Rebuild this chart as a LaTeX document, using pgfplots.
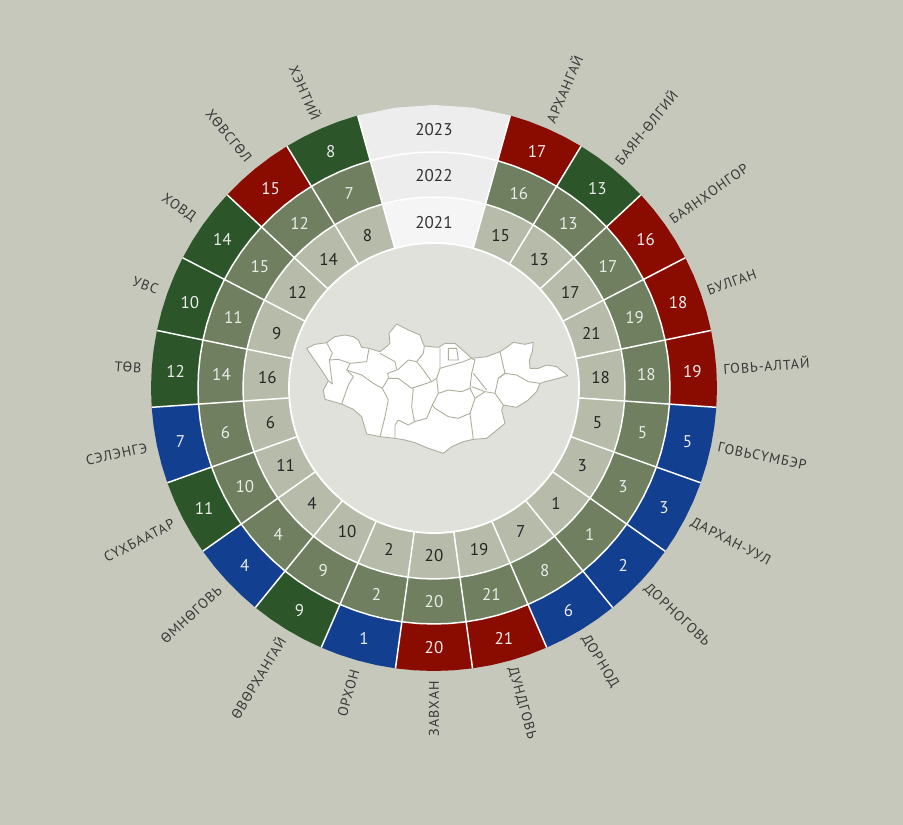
\documentclass[border=0pt]{standalone}
\usepackage{pgfplots}
\usepackage{fontspec}
\setmainfont{PT Sans}
\newfontfamily\labfont[LetterSpace=7]{PT Sans}
\pgfplotsset{compat=1.18}
\usepgfplotslibrary{polar}
\definecolor{bg}{HTML}{C6C8BB}
\definecolor{disk}{HTML}{E0E1DB}
\definecolor{cred}{HTML}{8A0C00}
\definecolor{cgreen}{HTML}{2C5529}
\definecolor{cblue}{HTML}{123F90}
\definecolor{cmid}{HTML}{6F7F60}
\definecolor{clight}{HTML}{B6BCA9}
\definecolor{border}{HTML}{A9B19D}
\def\sw{15.6522}
% filled ring sector: first angle, angular width, r in, r out, colour
\newcommand{\ringcell}[5]{%
  \pgfmathsetmacro\aA{#1}%
  \pgfmathsetmacro\aB{#1-0.25*#2}%
  \pgfmathsetmacro\aC{#1-0.5*#2}%
  \pgfmathsetmacro\aD{#1-0.75*#2}%
  \pgfmathsetmacro\aE{#1-#2}%
  \edef\temp{\noexpand\addplot[fill=#5,draw=none] coordinates {(\aA,#3)(\aB,#3)(\aC,#3)(\aD,#3)(\aE,#3)(\aE,#4)(\aD,#4)(\aC,#4)(\aB,#4)(\aA,#4)} -- cycle;}\temp
}
\newcommand{\ringarc}[3]{%
  \pgfmathsetmacro\aA{#1}%
  \pgfmathsetmacro\aB{#1-0.25*#2}%
  \pgfmathsetmacro\aC{#1-0.5*#2}%
  \pgfmathsetmacro\aD{#1-0.75*#2}%
  \pgfmathsetmacro\aE{#1-#2}%
  \edef\temp{\noexpand\addplot[white,line width=1.5pt] coordinates {(\aA,#3)(\aB,#3)(\aC,#3)(\aD,#3)(\aE,#3)};}\temp
}
\tikzset{
  lab/.style={font=\labfont\fontsize{14}{16}\selectfont,text=black!78,inner sep=0pt},
  num/.style={font=\fontsize{17}{20}\selectfont,inner sep=0pt,yshift=-1pt},
  mapline/.style={draw=border,line width=0.9pt,line join=round,no marks,fill=none}
}
\begin{document}
\begin{tikzpicture}[x=1pt,y=1pt]
\fill[bg] (0,0) rectangle (903,825);
\begin{polaraxis}[
  at={(434pt,437pt)}, anchor=origin,
  scale only axis, width=566pt, height=566pt,
  xmin=0, xmax=360, ymin=0, ymax=283,
  axis lines=none, xtick=\empty, ytick=\empty, clip=false,
]
% the year column at the top is two units wide
\pgfmathsetmacro\topstart{90+\sw}
\pgfmathsetmacro\topw{2*\sw}
\ringcell{\topstart}{\topw}{236}{283}{black!7}
\ringcell{\topstart}{\topw}{191}{236}{black!7}
\ringcell{\topstart}{\topw}{145}{191}{black!4}
% name / 2021 / 2022 / 2023 rank, clockwise from the top
\foreach \name/\a/\b/\c [count=\i] in {
  АРХАНГАЙ/15/16/17, БАЯН-ӨЛГИЙ/13/13/13, БАЯНХОНГОР/17/17/16, БУЛГАН/21/19/18,
  ГОВЬ-АЛТАЙ/18/18/19, ГОВЬСҮМБЭР/5/5/5, ДАРХАН-УУЛ/3/3/3, ДОРНОГОВЬ/1/1/2,
  ДОРНОД/7/8/6, ДУНДГОВЬ/19/21/21, ЗАВХАН/20/20/20, ОРХОН/2/2/1,
  ӨВӨРХАНГАЙ/10/9/9, ӨМНӨГОВЬ/4/4/4, СҮХБААТАР/11/10/11, СЭЛЭНГЭ/6/6/7,
  ТӨВ/16/14/12, УВС/9/11/10, ХОВД/12/15/14, ХӨВСГӨЛ/14/12/15, ХЭНТИЙ/8/7/8}
{
  \pgfmathsetmacro\st{90-\i*\sw}
  \ifnum\c<8 \def\col{cblue}\else\ifnum\c<15 \def\col{cgreen}\else\def\col{cred}\fi\fi
  \ringcell{\st}{\sw}{236}{283}{\col}
  \ringcell{\st}{\sw}{191}{236}{cmid}
  \ringcell{\st}{\sw}{145}{191}{clight}
}
% white rules between the cells
\foreach \k in {-1,...,21} {
  \pgfmathsetmacro\st{90-\k*\sw}
  \ifnum\k=0 \else
    \edef\temp{\noexpand\addplot[white,line width=1.5pt] coordinates {(\st,145)(\st,283)};}\temp
  \fi
  \ringarc{\st}{\sw}{236}
  \ringarc{\st}{\sw}{191}
}
\node[num,text=black!80] at (axis cs:90,259) {2023};
\node[num,text=black!80] at (axis cs:90,213) {2022};
\node[num,text=black!80] at (axis cs:90,166) {2021};
\foreach \name/\a/\b/\c [count=\i] in {
  АРХАНГАЙ/15/16/17, БАЯН-ӨЛГИЙ/13/13/13, БАЯНХОНГОР/17/17/16, БУЛГАН/21/19/18,
  ГОВЬ-АЛТАЙ/18/18/19, ГОВЬСҮМБЭР/5/5/5, ДАРХАН-УУЛ/3/3/3, ДОРНОГОВЬ/1/1/2,
  ДОРНОД/7/8/6, ДУНДГОВЬ/19/21/21, ЗАВХАН/20/20/20, ОРХОН/2/2/1,
  ӨВӨРХАНГАЙ/10/9/9, ӨМНӨГОВЬ/4/4/4, СҮХБААТАР/11/10/11, СЭЛЭНГЭ/6/6/7,
  ТӨВ/16/14/12, УВС/9/11/10, ХОВД/12/15/14, ХӨВСГӨЛ/14/12/15, ХЭНТИЙ/8/7/8}
{
  \pgfmathsetmacro\mid{90-(\i+0.5)*\sw}
  \pgfmathsetmacro\rot{\mid-180}
  \ifnum\i<11
    \edef\temp{\noexpand\node[lab,anchor=west,rotate=\mid] at (axis cs:\mid,290) {\name};}\temp
  \else
    \edef\temp{\noexpand\node[lab,anchor=east,rotate=\rot] at (axis cs:\mid,293) {\name};}\temp
  \fi
  \edef\temp{\noexpand\node[num,text=white!92!black] at (axis cs:\mid,259) {\c};}\temp
  \edef\temp{\noexpand\node[num,text=white!85!cmid] at (axis cs:\mid,213) {\b};}\temp
  \edef\temp{\noexpand\node[num,text=black!85] at (axis cs:\mid,167) {\a};}\temp
}
\end{polaraxis}
\fill[disk,draw=white,line width=1.8pt] (434,437) circle[radius=145];
% map, traced in a 3x grid of the box it sits in
\begin{axis}[
  at={(295pt,360pt)}, anchor=south west,
  scale only axis, width=285pt, height=155pt,
  xmin=0, xmax=855, ymin=0, ymax=465, y dir=reverse,
  hide axis, clip=false,
]
\addplot[fill=white,draw=border,line width=0.9pt,line join=round,no marks] coordinates {
 (35,115)(60,103)(95,98)(108,88)(120,80)(150,75)(175,80)(190,90)(200,112)(222,115)(255,125)
 (272,112)(285,100)(282,70)(305,42)(340,60)(375,75)(382,95)(388,108)(430,112)(450,100)(480,100)
 (505,122)(530,145)(575,140)(615,125)(635,112)(655,97)(690,103)(715,97)(712,125)(703,150)(705,175)
 (730,175)(755,165)(785,170)(818,197)(790,205)(750,215)(735,220)(725,245)(700,270)(665,292)(625,285)
 (620,300)(630,340)(600,365)(575,385)(535,388)(505,395)(470,410)(445,430)(400,415)
 (360,398)(330,390)(300,385)(255,380)(215,372)(200,320)(175,298)(140,282)(90,268)
 (85,240)(95,222)(100,212)(78,178)(55,145)} -- cycle;
\addplot[mapline] coordinates {(95,98)(112,130)(103,150)(108,190)(112,222)(100,212)};
\addplot[mapline] coordinates {(103,150)(130,148)(165,160)(215,155)(222,115)};
\addplot[mapline] coordinates {(165,160)(155,180)(175,200)(160,225)(140,282)};
\addplot[mapline] coordinates {(155,180)(200,195)(235,220)(262,235)};
\addplot[mapline] coordinates {(262,235)(280,270)(270,320)(255,380)};
\addplot[mapline] coordinates {(262,235)(280,205)(278,190)(310,178)(340,150)(365,155)(385,130)(388,108)};
\addplot[mapline] coordinates {(255,130)(300,155)(305,178)};
\addplot[mapline] coordinates {(280,205)(310,205)(350,235)(410,215)};
\addplot[mapline] coordinates {(365,155)(385,180)(410,215)(425,205)(435,175)(435,112)};
\addplot[mapline] coordinates {(355,235)(350,290)(358,335)(340,345)(310,330)(300,345)(300,385)};
\addplot[mapline] coordinates {(358,335)(395,325)(412,285)(430,250)(425,205)};
\addplot[mapline] coordinates {(430,250)(460,240)(500,245)(525,235)(540,265)(525,310)(490,325)(460,320)(420,295)(412,285)};
\addplot[mapline] coordinates {(435,175)(470,165)(505,155)(530,145)(540,150)(530,190)(525,235)};
\addplot[mapline] coordinates {(460,115)(485,115)(490,150)(460,150)(460,115)};
\addplot[mapline] coordinates {(525,310)(535,388)};
\addplot[mapline] coordinates {(540,265)(570,245)(600,250)(625,285)};
\addplot[mapline] coordinates {(530,230)(570,245)};
\addplot[mapline] coordinates {(535,190)(575,240)};
\addplot[mapline] coordinates {(600,250)(610,205)(630,190)(615,125)};
\addplot[mapline] coordinates {(610,205)(630,190)(665,195)(700,215)(735,220)};
\end{axis}
\end{tikzpicture}
\end{document}
